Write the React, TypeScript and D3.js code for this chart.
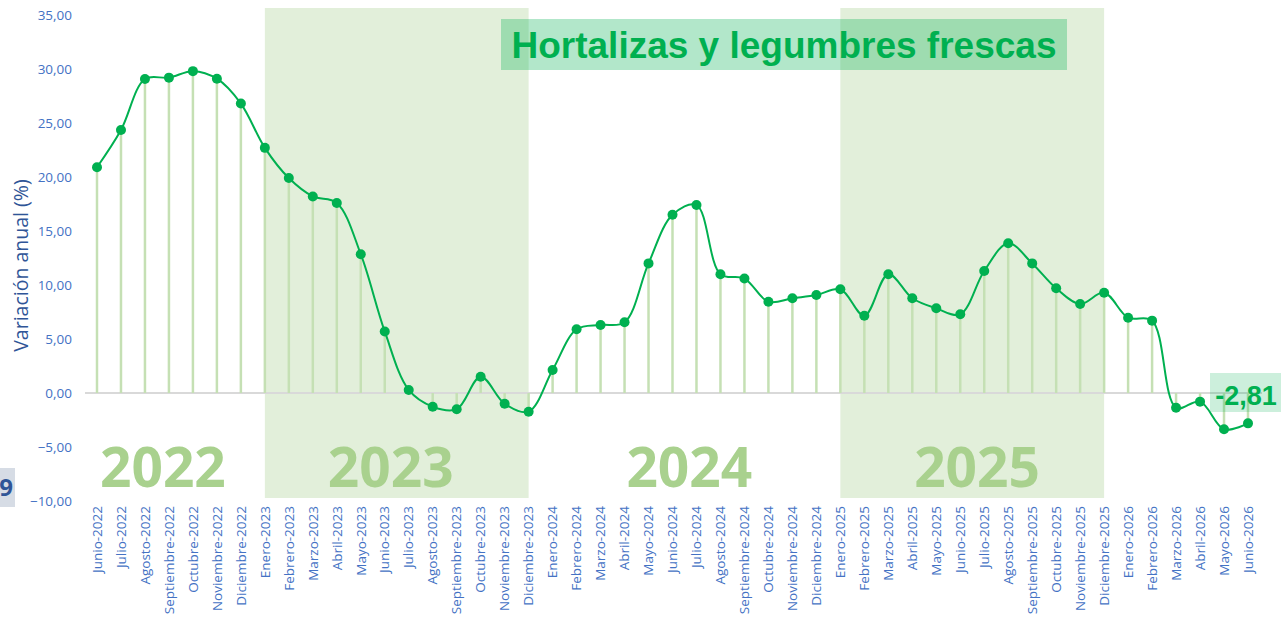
import React from 'react';
import * as d3 from 'd3';

// meses de junio 2022 a junio 2026
const months = [
  'Junio-2022', 'Julio-2022', 'Agosto-2022', 'Septiembre-2022', 'Octubre-2022', 'Noviembre-2022', 'Diciembre-2022',
  'Enero-2023', 'Febrero-2023', 'Marzo-2023', 'Abril-2023', 'Mayo-2023', 'Junio-2023', 'Julio-2023',
  'Agosto-2023', 'Septiembre-2023', 'Octubre-2023', 'Noviembre-2023', 'Diciembre-2023',
  'Enero-2024', 'Febrero-2024', 'Marzo-2024', 'Abril-2024', 'Mayo-2024', 'Junio-2024', 'Julio-2024',
  'Agosto-2024', 'Septiembre-2024', 'Octubre-2024', 'Noviembre-2024', 'Diciembre-2024',
  'Enero-2025', 'Febrero-2025', 'Marzo-2025', 'Abril-2025', 'Mayo-2025', 'Junio-2025', 'Julio-2025',
  'Agosto-2025', 'Septiembre-2025', 'Octubre-2025', 'Noviembre-2025', 'Diciembre-2025',
  'Enero-2026', 'Febrero-2026', 'Marzo-2026', 'Abril-2026', 'Mayo-2026', 'Junio-2026'
];

const values = [
  20.9, 24.35, 29.07, 29.2, 29.8, 29.1, 26.8,
  22.7, 19.9, 18.2, 17.6, 12.85, 5.7, 0.28,
  -1.27, -1.5, 1.5, -1.0, -1.73,
  2.13, 5.9, 6.3, 6.55, 12.0, 16.5, 17.4,
  11.0, 10.6, 8.45, 8.77, 9.07,
  9.6, 7.16, 11.0, 8.77, 7.84, 7.29, 11.3,
  13.86, 12.0, 9.7, 8.24, 9.29,
  6.97, 6.7, -1.36, -0.8, -3.36, -2.81
];

const yTicks = [35, 30, 25, 20, 15, 10, 5, 0, -5, -10];

// bandas sombreadas (desde enero hasta diciembre)
const shadedYears = [
  { from: 'Enero-2023', to: 'Diciembre-2023' },
  { from: 'Enero-2025', to: 'Diciembre-2025' }
];

const yearLabels = ['2022', '2023', '2024', '2025'];
const yearLabelPos = [2.75, 12.25, 24.7, 36.7];

const title = 'Hortalizas y legumbres frescas';
const lastLabel = '-2,81';

const GREEN = '#00b050';

export default function App() {
  const width = 1281;
  const height = 620;

  const x = d3.scaleLinear().domain([0, months.length - 1]).range([97, 1248]);
  const y = d3.scaleLinear().domain([-10, 35]).range([501, 15]);

  const line = d3.line<number>()
    .x((d, i) => x(i))
    .y(d => y(d))
    .curve(d3.curveCatmullRom.alpha(0.5));

  const fmt = (v: number) => d3.format('.2f')(v).replace('.', ',');
  const lastI = values.length - 1;

  return (
    <svg width={width} height={height}
         style={{ position: 'absolute', left: 0, top: 0, background: '#fff' }}>
      {shadedYears.map((b, i) => (
        <rect key={i} x={x(months.indexOf(b.from))} y={8}
              width={x(months.indexOf(b.to)) - x(months.indexOf(b.from))}
              height={490} fill="#e2efda" />
      ))}

      {yearLabels.map((t, i) => (
        <text key={t} x={x(yearLabelPos[i])} y={487} textAnchor="middle"
              fontFamily="'Open Sans', sans-serif" fontWeight={700} fontSize={55}
              fill="#a9d18e">{t}</text>
      ))}

      <line x1={85} x2={1262} y1={y(0)} y2={y(0)} stroke="#d9d9d9" strokeWidth={2} />

      {values.map((v, i) => (
        <line key={i} x1={x(i)} x2={x(i)} y1={y(0)} y2={y(v)}
              stroke="#c5e0b4" strokeWidth={2.5} />
      ))}

      <path d={line(values) || ''} fill="none" stroke={GREEN} strokeWidth={2} />
      {values.map((v, i) => (
        <circle key={i} cx={x(i)} cy={y(v)} r={5} fill={GREEN} />
      ))}

      {yTicks.map(t => (
        <text key={t} x={72} y={y(t)} dy="0.35em" textAnchor="end"
              fontFamily="'Open Sans', sans-serif" fontSize={13.5} fill="#4472c4">{fmt(t)}</text>
      ))}

      <text transform={`translate(28,${y(11.8)}) rotate(-90)`} textAnchor="middle"
            fontFamily="'Open Sans', sans-serif" fontSize={19.5} fill="#2f5597">Variación anual (%)</text>

      {months.map((m, i) => (
        <text key={m} transform={`translate(${x(i)},506) rotate(-90)`} dy="0.35em"
              textAnchor="end" fontFamily="'Open Sans', sans-serif" fontSize={13.5}
              fill="#4472c4">{m}</text>
      ))}

      <rect x={501} y={19} width={566} height={51} fill={GREEN} fillOpacity={0.3} />
      <text x={784} y={58} textAnchor="middle" fontFamily="'Liberation Sans', Arial, sans-serif"
            fontWeight={700} fontSize={37} fill={GREEN}>{title}</text>

      <rect x={1210} y={373} width={71} height={39} fill={GREEN} fillOpacity={0.2} />
      <text x={x(lastI) - 2} y={405} textAnchor="middle" fontFamily="'Liberation Sans', Arial, sans-serif"
            fontWeight={700} fontSize={27} fill={GREEN}>{lastLabel}</text>

      <rect x={0} y={468} width={15} height={39} fill="#d6dce5" />
      <text x={13} y={496} textAnchor="end" fontFamily="'Open Sans', sans-serif"
            fontWeight={700} fontSize={24} fill="#2f5597">9</text>
    </svg>
  );
}
